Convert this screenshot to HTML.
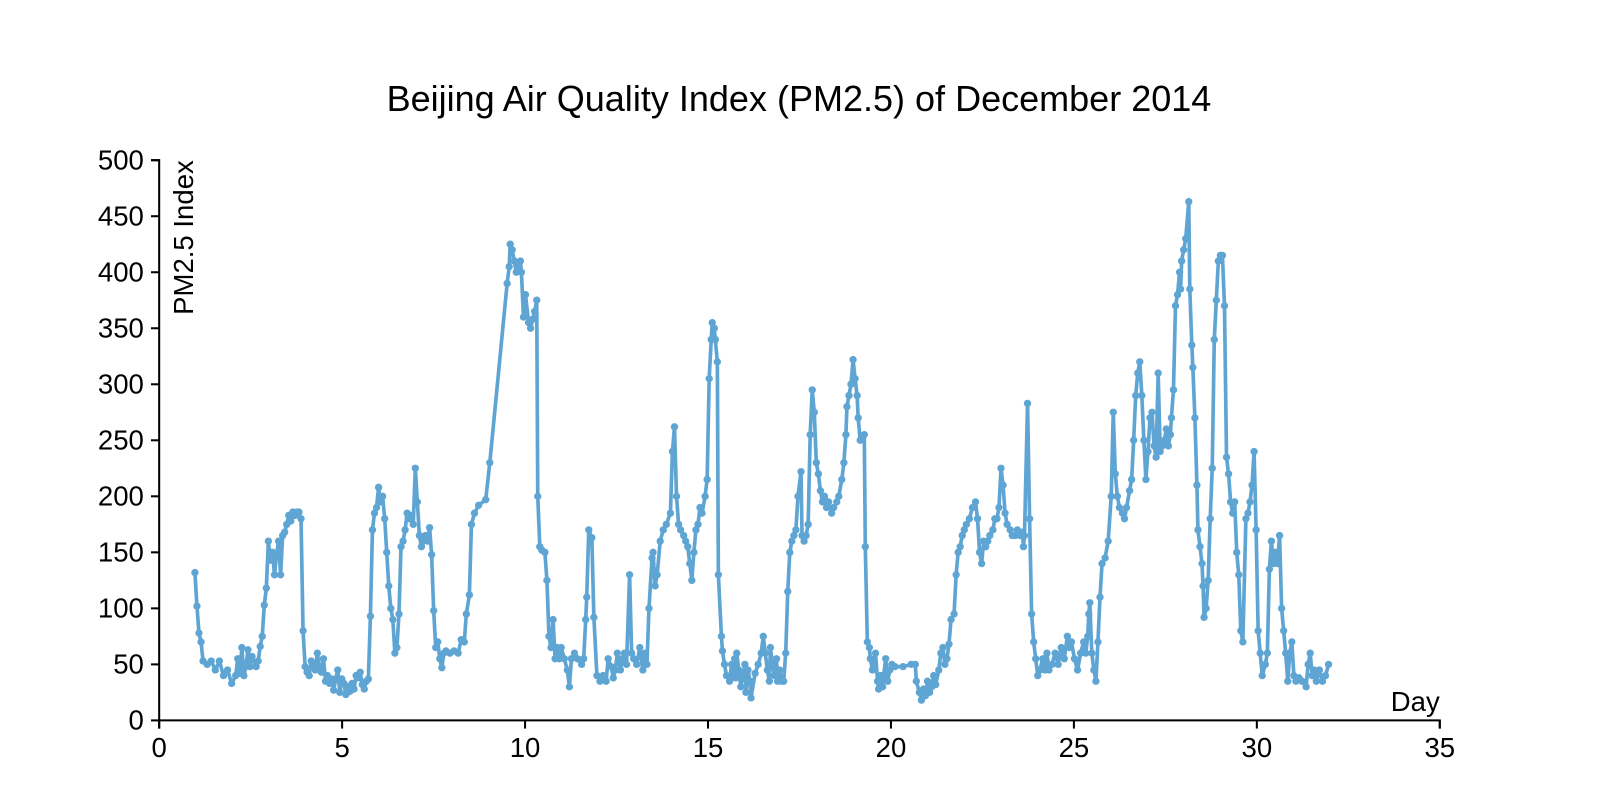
<!DOCTYPE html>
<html><head><meta charset="utf-8"><style>
body{margin:0;background:#fff}
svg{display:block;font-family:"Liberation Sans",sans-serif}
</style></head><body>
<svg id="s" width="1600" height="800" viewBox="0 0 1600 800">
<g transform="scale(1.0204)">
<text x="783" y="109" text-anchor="middle" font-size="35.3">Beijing Air Quality Index (PM2.5) of December 2014</text>
<g id="ax" stroke="#000" stroke-width="2" fill="none"></g>
<g id="lb" font-size="27" fill="#000"></g>
<text transform="translate(189,157) rotate(-90)" text-anchor="end" font-size="27">PM2.5 Index</text>
<text x="1411" y="697" text-anchor="end" font-size="27">Day</text>
<polyline id="ln" fill="none" stroke="#5fa5d4" stroke-width="3.6" stroke-linejoin="round"/>
<g id="dots" fill="#5fa5d4"></g>
</g>
</svg>
<script>
var NS="http://www.w3.org/2000/svg";
function el(p,t,a,txt){var e=document.createElementNS(NS,t);for(var k in a)e.setAttribute(k,a[k]);if(txt!=null)e.textContent=txt;document.getElementById(p).appendChild(e);}
var X0=156,DX=(1411-156)/35,Y0=706,DY=549/500;
el("ax","path",{d:"M148,157H156V706H1411V714 M156,714V706"});
for(var v=0;v<=500;v+=50){var y=Y0-v*DY;el("ax","line",{x1:148,x2:156,y1:y,y2:y});el("lb","text",{x:141,y:y+9,"text-anchor":"end"},v);}
for(var d=0;d<=35;d+=5){var x=X0+d*DX;el("ax","line",{x1:x,x2:x,y1:706,y2:714});el("lb","text",{x:x,y:742,"text-anchor":"middle"},d);}
var P=[191,132,193,102,195,78,197,70,199,53,203,50,207,53,211,45,215,53,219,40,223,45,227,33,231,40,233,55,235,42,237,65,239,40,241,48,243,63,245,48,247,57,251,48,253,53,255,66,257,75,259,103,261,118,263,160,265,143,267,150,269,130,271,148,273,160,275,130,277,165,279,168,281,175,283,183,285,178,287,186,289,183,291,186,293,186,295,180,297,80,299,48,301,43,303,40,305,53,307,50,309,45,311,60,313,48,315,43,317,55,319,35,321,40,323,33,325,37,327,27,329,37,331,45,333,25,335,37,337,33,339,23,341,30,343,26,345,33,347,28,349,40,351,38,353,43,355,32,357,28,359,35,361,37,363,93,365,170,367,185,369,190,371,208,373,195,375,200,377,180,379,150,381,120,383,100,385,90,387,60,389,65,391,95,393,155,395,160,397,170,399,185,401,180,403,183,405,175,407,225,409,195,411,165,413,155,415,160,417,165,419,160,421,172,423,148,425,98,427,65,429,70,431,55,433,47,435,60,437,62,441,60,445,62,449,60,452,72,455,70,457,95,460,112,462,175,465,185,469,192,476,197,480,230,497,390,499,405,500,425,502,420,504,410,506,400,508,405,510,410,511,400,513,360,515,380,518,355,520,350,522,358,524,365,526,375,527,200,529,155,531,152,534,150,536,125,538,75,540,65,542,90,544,55,546,65,548,55,550,65,553,55,556,45,558,30,560,55,563,60,566,55,570,50,572,55,574,90,575,110,577,170,580,163,582,92,585,40,588,35,591,40,594,35,596,55,599,48,601,38,603,45,605,60,608,45,610,55,612,60,614,50,617,130,619,60,621,55,624,50,627,65,630,45,632,60,634,50,636,100,639,145,640,150,642,120,644,130,647,160,650,170,653,175,657,185,659,240,661,262,663,200,665,175,667,170,670,165,672,160,674,155,676,140,678,125,680,150,682,170,684,175,686,190,688,185,691,200,693,215,695,305,697,340,698,355,700,350,701,340,703,320,704,130,707,75,708,62,710,50,712,40,715,35,717,50,719,40,720,55,721,38,722,60,724,45,726,30,728,40,730,50,731,25,733,45,735,35,736,20,740,42,743,50,746,60,748,75,750,60,752,45,754,35,755,65,757,50,759,40,761,55,762,35,764,45,766,35,768,35,770,60,772,115,774,150,776,160,778,165,780,170,782,200,785,222,786,165,788,160,790,165,792,175,794,255,796,295,798,275,800,230,802,220,804,205,806,195,808,200,810,190,812,195,815,185,817,190,820,195,822,200,825,215,827,230,829,255,830,280,832,290,834,300,836,322,838,305,840,290,841,270,843,250,847,255,848,155,850,70,852,65,853,55,855,45,858,60,860,35,861,28,863,40,865,30,866,40,868,55,870,35,872,45,874,50,877,48,885,48,893,50,897,50,898,35,901,25,903,18,905,28,907,22,909,35,911,25,913,30,915,40,917,32,920,45,922,60,924,65,926,50,928,55,930,68,932,90,935,95,937,130,939,150,941,155,943,165,945,170,947,175,950,180,953,190,956,195,958,180,960,150,962,140,964,160,966,155,968,160,970,165,973,170,975,180,977,180,979,190,981,225,983,210,985,185,987,175,990,170,992,165,995,165,997,170,1000,165,1002,168,1003,155,1004,165,1007,283,1009,180,1011,95,1013,70,1015,55,1017,40,1019,45,1022,55,1024,45,1026,60,1028,45,1031,50,1034,60,1037,50,1040,65,1043,55,1046,75,1048,65,1050,70,1053,55,1056,45,1059,60,1062,70,1064,60,1066,75,1067,95,1068,105,1070,60,1072,45,1074,35,1076,70,1078,110,1080,140,1083,145,1086,160,1089,200,1091,275,1093,220,1095,200,1097,190,1100,185,1102,180,1104,190,1107,205,1109,215,1111,250,1113,290,1115,310,1117,320,1119,290,1121,250,1123,215,1125,240,1127,270,1129,275,1131,245,1133,235,1135,310,1137,240,1139,245,1141,250,1143,260,1145,245,1147,255,1148,270,1150,295,1152,370,1154,380,1156,400,1157,385,1158,410,1160,420,1162,430,1165,463,1166,385,1168,335,1169,315,1171,270,1173,210,1174,170,1176,155,1178,140,1179,120,1180,92,1182,100,1184,125,1186,180,1188,225,1190,340,1192,375,1194,410,1196,415,1198,415,1200,370,1202,235,1204,220,1206,195,1208,185,1210,195,1212,150,1214,130,1216,80,1218,70,1221,180,1223,185,1225,195,1227,210,1229,240,1231,170,1233,80,1235,60,1237,40,1240,50,1242,60,1244,135,1246,160,1248,140,1250,150,1252,140,1254,165,1256,100,1258,80,1260,60,1262,35,1264,60,1266,70,1268,40,1270,35,1273,38,1276,35,1280,30,1282,50,1284,60,1286,40,1288,45,1290,35,1293,45,1296,35,1299,40,1302,50];
var pts=[];for(var i=0;i<P.length;i+=2){var x=P[i],y=Y0-P[i+1]*DY;pts.push(x+","+y.toFixed(1));el("dots","circle",{cx:x,cy:y.toFixed(1),r:3.6});}
document.getElementById("ln").setAttribute("points",pts.join(" "));
</script>
</body></html>
